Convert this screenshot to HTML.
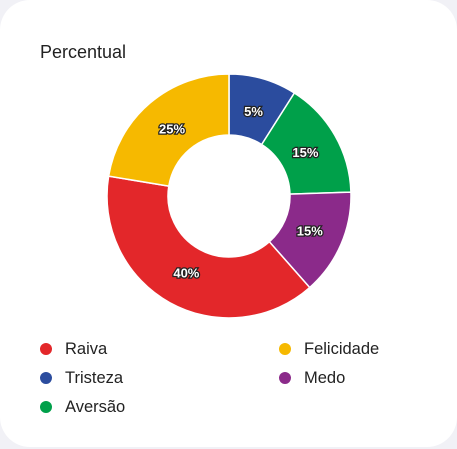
<!DOCTYPE html>
<html><head><meta charset="utf-8"><style>
html,body{margin:0;padding:0;background:#f1f1f6;width:457px;height:449px;overflow:hidden;font-family:"Liberation Sans",sans-serif}
#card{position:absolute;left:0;top:0;width:457px;height:447px;background:#fff;border-radius:30px}
#title{position:absolute;left:40px;top:42px;font-size:18px;color:#222}
.leg{position:absolute;font-size:16.5px;color:#222;height:20px;line-height:20px}
.leg span.dot{position:absolute;left:0;top:4px;width:12px;height:12px;border-radius:50%}
.leg span.t{position:absolute;left:25px;white-space:nowrap}
</style></head><body>
<div id="card">
<div id="title">Percentual</div>
<svg id="chart" width="457" height="449" style="position:absolute;left:0;top:0"></svg>
<div id="legend"></div>
</div>
<script>
const categories=["Tristeza","Aversão","Medo","Raiva","Felicidade"];
const values=[9,15.5,14,39.1,22.4];
const printed=["5%","15%","15%","40%","25%"];
const colors=["#2b4c9e","#00a04a","#8b2a8a","#e3272a","#f6b900"];
const legendOrder=["Raiva","Felicidade","Tristeza","Medo","Aversão"];
const ns="http://www.w3.org/2000/svg";
const svg=document.getElementById('chart');
const cx=229,cy=196,R=122,r=61;
const total=values.reduce((a,b)=>a+b,0);
function pt(a,rad){return [cx+rad*Math.sin(a),cy-rad*Math.cos(a)];}
let acc=0;
values.forEach((v,i)=>{
 const a0=acc/total*2*Math.PI;acc+=v;const a1=acc/total*2*Math.PI;
 const large=(a1-a0)>Math.PI?1:0;
 const p0=pt(a0,R),p1=pt(a1,R),q1=pt(a1,r),q0=pt(a0,r);
 const p=document.createElementNS(ns,'path');
 p.setAttribute('d',`M${p0[0]},${p0[1]}A${R},${R} 0 ${large} 1 ${p1[0]},${p1[1]}L${q1[0]},${q1[1]}A${r},${r} 0 ${large} 0 ${q0[0]},${q0[1]}Z`);
 p.setAttribute('fill',colors[i]);p.setAttribute('stroke','#fff');p.setAttribute('stroke-width','1.5');
 
 
 svg.appendChild(p);
 const m=pt((a0+a1)/2,88);
 const t=document.createElementNS(ns,'text');
 t.setAttribute('x',m[0]);t.setAttribute('y',m[1]+4.5);t.setAttribute('text-anchor','middle');
 t.setAttribute('font-size','13');t.setAttribute('font-weight','bold');t.setAttribute('fill','#fff');
 t.setAttribute('stroke','#222');t.setAttribute('stroke-width','2.5');t.setAttribute('paint-order','stroke');
 t.setAttribute('font-family','Liberation Sans, sans-serif');
 t.textContent=printed[i];
 
 
 svg.appendChild(t);
});
const leg=document.getElementById('legend');
legendOrder.forEach((name,k)=>{
 const i=categories.indexOf(name);
 const d=document.createElement('div');d.className='leg';
 d.style.left=(k%2?279:40)+'px';d.style.top=(339+Math.floor(k/2)*29)+'px';
 d.innerHTML=`<span class="dot" style="background:${colors[i]}"></span><span class="t">${name}</span>`;
 
 
 leg.appendChild(d);
});
</script>
</body></html>
